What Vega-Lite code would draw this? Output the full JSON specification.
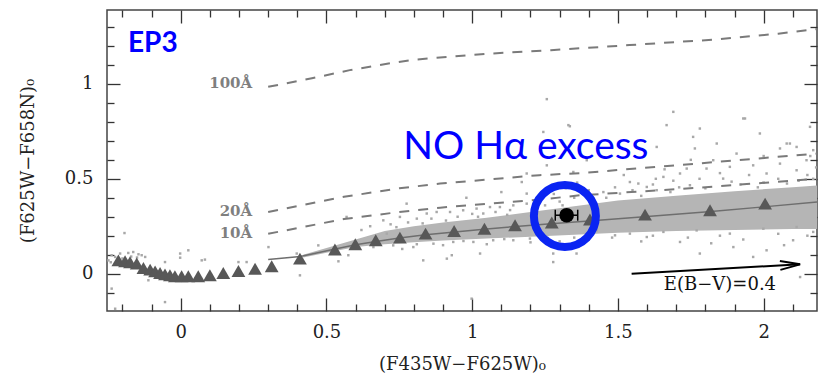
{
  "$schema": "https://vega.github.io/schema/vega-lite/v6.json",
  "width": 710,
  "height": 301,
  "autosize": {"type": "none"},
  "padding": {"left": 107, "top": 10, "right": 13, "bottom": 66},
  "background": "white",
  "config": {
    "view": {"stroke": "#444444", "strokeWidth": 1.5},
    "axis": {"labelFont": "DejaVu Serif", "titleFont": "DejaVu Serif", "labelFontSize": 18, "titleFontSize": 18, "labelColor": "#222222", "titleColor": "#222222", "titleFontWeight": "normal", "grid": false}
  },
  "datasets": {
    "band": [
      {"x": 0.42, "lo": 0.085, "hi": 0.10},
      {"x": 0.5, "lo": 0.11, "hi": 0.135},
      {"x": 0.6, "lo": 0.14, "hi": 0.18},
      {"x": 0.7, "lo": 0.155, "hi": 0.225},
      {"x": 0.8, "lo": 0.165, "hi": 0.25},
      {"x": 0.9, "lo": 0.175, "hi": 0.27},
      {"x": 1.05, "lo": 0.185, "hi": 0.295},
      {"x": 1.2, "lo": 0.195, "hi": 0.325},
      {"x": 1.35, "lo": 0.205, "hi": 0.355},
      {"x": 1.5, "lo": 0.215, "hi": 0.385},
      {"x": 1.7, "lo": 0.225, "hi": 0.41},
      {"x": 1.9, "lo": 0.23, "hi": 0.435},
      {"x": 2.1, "lo": 0.235, "hi": 0.455},
      {"x": 2.183, "lo": 0.235, "hi": 0.465}
    ],
    "stars": [
      {"x": -0.248, "y": 0.070}, {"x": -0.237, "y": 0.097}, {"x": -0.225, "y": 0.088}, {"x": -0.208, "y": 0.106},
      {"x": -0.180, "y": 0.109}, {"x": -0.163, "y": 0.114}, {"x": -0.145, "y": 0.102}, {"x": -0.134, "y": 0.097},
      {"x": -0.122, "y": 0.088}, {"x": -0.193, "y": 0.214}, {"x": -0.111, "y": -0.035}, {"x": -0.237, "y": -0.079},
      {"x": -0.054, "y": -0.150}, {"x": -0.225, "y": -0.185}, {"x": -0.002, "y": 0.106}, {"x": 0.026, "y": 0.123},
      {"x": -0.054, "y": 0.061}, {"x": -0.002, "y": 0.084}, {"x": 0.072, "y": 0.070}, {"x": 0.083, "y": 0.074},
      {"x": 0.198, "y": 0.061}, {"x": 0.226, "y": 0.061}, {"x": 0.301, "y": 0.140}, {"x": 0.398, "y": 0.106},
      {"x": 0.409, "y": -0.009}, {"x": 0.472, "y": 0.149}, {"x": 0.541, "y": 0.065}, {"x": 0.569, "y": 0.299},
      {"x": -0.2, "y": 0.08}, {"x": -0.17, "y": 0.09}, {"x": -0.15, "y": 0.085}, {"x": -0.24, "y": 0.06}, {"x": -0.215, "y": 0.055},
      {"x": 0.575, "y": 0.097}, {"x": 0.707, "y": 0.211}, {"x": 0.832, "y": 0.070}, {"x": 0.913, "y": 0.079},
      {"x": 0.930, "y": 0.097}, {"x": 1.038, "y": 0.317}, {"x": 1.187, "y": 0.422}, {"x": 1.278, "y": 0.061},
      {"x": 1.027, "y": 0.106}, {"x": 0.775, "y": 0.369}, {"x": 0.998, "y": -0.132}, {"x": 1.187, "y": 0.528},
      {"x": 1.256, "y": 0.571}, {"x": 1.347, "y": 0.536}, {"x": 1.393, "y": 0.598}, {"x": 1.17, "y": 0.483},
      {"x": 1.278, "y": 0.106}, {"x": 1.358, "y": 0.106},
      {"x": 0.695, "y": 0.281}, {"x": 0.752, "y": 0.299}, {"x": 0.810, "y": 0.290}, {"x": 0.844, "y": 0.317},
      {"x": 0.878, "y": 0.325}, {"x": 0.924, "y": 0.325}, {"x": 0.969, "y": 0.334}, {"x": 1.015, "y": 0.343},
      {"x": 1.061, "y": 0.351}, {"x": 1.095, "y": 0.351}, {"x": 1.141, "y": 0.360}, {"x": 1.187, "y": 0.369},
      {"x": 1.221, "y": 0.387},
      {"x": 0.72, "y": 0.26}, {"x": 0.78, "y": 0.27}, {"x": 0.86, "y": 0.29}, {"x": 0.95, "y": 0.30},
      {"x": 1.0, "y": 0.315}, {"x": 1.08, "y": 0.325}, {"x": 1.13, "y": 0.335}, {"x": 1.25, "y": 0.36},
      {"x": 1.3, "y": 0.38}, {"x": 1.35, "y": 0.40}, {"x": 1.28, "y": 0.42}, {"x": 1.32, "y": 0.45},
      {"x": 1.40, "y": 0.44}, {"x": 1.36, "y": 0.48}, {"x": 1.1, "y": 0.43}, {"x": 0.98, "y": 0.40},
      {"x": 0.62, "y": 0.23}, {"x": 0.65, "y": 0.25},
      {"x": 0.74, "y": 0.245}, {"x": 0.83, "y": 0.265}, {"x": 0.91, "y": 0.28}, {"x": 1.02, "y": 0.3},
      {"x": 1.12, "y": 0.31}, {"x": 1.22, "y": 0.34}, {"x": 1.31, "y": 0.36}, {"x": 1.42, "y": 0.37},
      {"x": 0.81, "y": 0.155}, {"x": 0.97, "y": 0.172}, {"x": 1.11, "y": 0.182}, {"x": 1.26, "y": 0.188},
      {"x": 0.661, "y": 0.140}, {"x": 0.729, "y": 0.149}, {"x": 0.798, "y": 0.140}, {"x": 0.867, "y": 0.158},
      {"x": 0.935, "y": 0.167}, {"x": 1.004, "y": 0.167}, {"x": 1.072, "y": 0.176}, {"x": 1.141, "y": 0.176},
      {"x": 1.198, "y": 0.185}, {"x": 0.76, "y": 0.13}, {"x": 0.9, "y": 0.15}, {"x": 1.05, "y": 0.155},
      {"x": 1.2, "y": 0.165}, {"x": 1.3, "y": 0.17}, {"x": 1.35, "y": 0.19}, {"x": 1.4, "y": 0.18},
      {"x": 1.667, "y": 0.783}, {"x": 1.764, "y": 0.660}, {"x": 1.936, "y": 0.818}, {"x": 1.987, "y": 0.739},
      {"x": 1.839, "y": 0.686}, {"x": 2.09, "y": 0.686}, {"x": 2.113, "y": 0.668}, {"x": 2.125, "y": -0.018},
      {"x": 2.101, "y": 0.176}, {"x": 1.896, "y": 0.140}, {"x": 1.713, "y": 0.167}, {"x": 1.599, "y": 0.193},
      {"x": 1.49, "y": 0.202}, {"x": 2.01, "y": 0.123}, {"x": 1.964, "y": 0.088}, {"x": 1.781, "y": 0.106},
      {"x": 1.541, "y": 0.483}, {"x": 1.656, "y": 0.510}, {"x": 1.713, "y": 0.528}, {"x": 1.804, "y": 0.554},
      {"x": 1.884, "y": 0.563}, {"x": 1.964, "y": 0.571}, {"x": 2.056, "y": 0.580}, {"x": 2.147, "y": 0.598},
      {"x": 1.633, "y": 0.440}, {"x": 1.747, "y": 0.466}, {"x": 1.861, "y": 0.501}, {"x": 2.01, "y": 0.528},
      {"x": 2.113, "y": 0.545}, {"x": 1.507, "y": 0.422}, {"x": 1.907, "y": 0.633}, {"x": 2.056, "y": 0.660},
      {"x": 2.17, "y": 0.651}, {"x": 1.827, "y": 0.598}, {"x": 1.736, "y": 0.554}, {"x": 1.599, "y": 0.457},
      {"x": 1.45, "y": 0.43}, {"x": 1.55, "y": 0.44}, {"x": 1.62, "y": 0.47}, {"x": 1.69, "y": 0.49},
      {"x": 1.78, "y": 0.5}, {"x": 1.95, "y": 0.52}, {"x": 2.05, "y": 0.5}, {"x": 2.15, "y": 0.52},
      {"x": 2.18, "y": 0.56}, {"x": 1.58, "y": 0.41}, {"x": 1.68, "y": 0.43}, {"x": 1.8, "y": 0.45},
      {"x": 1.92, "y": 0.47}, {"x": 2.0, "y": 0.48}, {"x": 2.12, "y": 0.49}, {"x": 1.46, "y": 0.40},
      {"x": 1.52, "y": 0.52}, {"x": 1.75, "y": 0.6}, {"x": 2.0, "y": 0.62}, {"x": 2.16, "y": 0.62},
      {"x": 1.85, "y": 0.53}, {"x": 1.66, "y": 0.55},
      {"x": 1.49, "y": 0.455}, {"x": 1.57, "y": 0.475}, {"x": 1.71, "y": 0.455}, {"x": 1.89, "y": 0.485},
      {"x": 1.98, "y": 0.455}, {"x": 2.08, "y": 0.475}, {"x": 2.17, "y": 0.5}, {"x": 1.63, "y": 0.5},
      {"x": 1.427, "y": 0.228}, {"x": 1.541, "y": 0.211}, {"x": 1.656, "y": 0.220}, {"x": 1.770, "y": 0.228},
      {"x": 1.884, "y": 0.211}, {"x": 1.999, "y": 0.237}, {"x": 2.113, "y": 0.246}, {"x": 2.17, "y": 0.220},
      {"x": 1.48, "y": 0.19}, {"x": 1.62, "y": 0.20}, {"x": 1.74, "y": 0.19}, {"x": 1.85, "y": 0.2},
      {"x": 1.93, "y": 0.18}, {"x": 2.05, "y": 0.21}, {"x": 2.15, "y": 0.2}, {"x": 1.58, "y": 0.17},
      {"x": 1.82, "y": 0.16}, {"x": 2.07, "y": 0.15},
      {"x": 1.256, "y": 0.920}, {"x": 1.335, "y": 0.777}, {"x": 1.69, "y": 0.853}, {"x": 1.781, "y": 0.765},
      {"x": 1.93, "y": 0.818}, {"x": 2.079, "y": 0.686}, {"x": 2.159, "y": 0.774}, {"x": 1.633, "y": 0.668},
      {"x": 1.758, "y": 0.721}, {"x": 1.33, "y": 0.783}, {"x": 1.244, "y": 0.747}
    ],
    "ew": [
      {"ew": "100Å", "x": 0.30, "y": 0.985}, {"ew": "100Å", "x": 0.45, "y": 1.03}, {"ew": "100Å", "x": 0.58, "y": 1.073},
      {"ew": "100Å", "x": 0.72, "y": 1.11}, {"ew": "100Å", "x": 0.80, "y": 1.128}, {"ew": "100Å", "x": 0.92, "y": 1.143},
      {"ew": "100Å", "x": 1.06, "y": 1.16}, {"ew": "100Å", "x": 1.27, "y": 1.178}, {"ew": "100Å", "x": 1.54, "y": 1.205},
      {"ew": "100Å", "x": 1.84, "y": 1.235}, {"ew": "100Å", "x": 2.05, "y": 1.265}, {"ew": "100Å", "x": 2.183, "y": 1.29},
      {"ew": "20Å", "x": 0.30, "y": 0.325}, {"ew": "20Å", "x": 0.56, "y": 0.405}, {"ew": "20Å", "x": 0.75, "y": 0.45},
      {"ew": "20Å", "x": 0.89, "y": 0.475}, {"ew": "20Å", "x": 1.23, "y": 0.519}, {"ew": "20Å", "x": 1.37, "y": 0.53},
      {"ew": "20Å", "x": 1.77, "y": 0.58}, {"ew": "20Å", "x": 2.183, "y": 0.633},
      {"ew": "10Å", "x": 0.30, "y": 0.21}, {"ew": "10Å", "x": 0.56, "y": 0.288}, {"ew": "10Å", "x": 0.75, "y": 0.325},
      {"ew": "10Å", "x": 0.89, "y": 0.348}, {"ew": "10Å", "x": 1.23, "y": 0.39}, {"ew": "10Å", "x": 1.37, "y": 0.413},
      {"ew": "10Å", "x": 1.77, "y": 0.452}, {"ew": "10Å", "x": 2.183, "y": 0.50}
    ],
    "ewlabels": [
      {"x": 0.245, "y": 1.004, "label": "100Å"},
      {"x": 0.245, "y": 0.329, "label": "20Å"},
      {"x": 0.245, "y": 0.213, "label": "10Å"}
    ],
    "locus": [
      {"x": 0.30, "y": 0.075}, {"x": 0.41, "y": 0.09}, {"x": 0.53, "y": 0.13}, {"x": 0.6, "y": 0.152},
      {"x": 0.67, "y": 0.17}, {"x": 0.75, "y": 0.188}, {"x": 0.84, "y": 0.205}, {"x": 0.94, "y": 0.22},
      {"x": 1.04, "y": 0.234}, {"x": 1.15, "y": 0.249}, {"x": 1.27, "y": 0.263}, {"x": 1.40, "y": 0.278},
      {"x": 1.59, "y": 0.300}, {"x": 1.82, "y": 0.327}, {"x": 2.0, "y": 0.352}, {"x": 2.183, "y": 0.378}
    ],
    "triangles": [
      {"x": -0.214, "y": 0.070}, {"x": -0.191, "y": 0.065}, {"x": -0.174, "y": 0.060}, {"x": -0.151, "y": 0.053},
      {"x": -0.128, "y": 0.030}, {"x": -0.105, "y": 0.021}, {"x": -0.088, "y": 0.012}, {"x": -0.071, "y": 0.003},
      {"x": -0.054, "y": -0.004}, {"x": -0.037, "y": -0.009}, {"x": -0.020, "y": -0.014}, {"x": 0.003, "y": -0.014},
      {"x": 0.026, "y": -0.014}, {"x": 0.060, "y": -0.014}, {"x": 0.100, "y": -0.009}, {"x": 0.146, "y": 0.003},
      {"x": 0.198, "y": 0.014}, {"x": 0.255, "y": 0.026}, {"x": 0.312, "y": 0.039}, {"x": 0.409, "y": 0.079},
      {"x": 0.529, "y": 0.127}, {"x": 0.599, "y": 0.155}, {"x": 0.669, "y": 0.176}, {"x": 0.752, "y": 0.190},
      {"x": 0.840, "y": 0.211}, {"x": 0.938, "y": 0.225}, {"x": 1.042, "y": 0.237}, {"x": 1.147, "y": 0.255},
      {"x": 1.273, "y": 0.270}, {"x": 1.404, "y": 0.285}, {"x": 1.593, "y": 0.311}, {"x": 1.816, "y": 0.334},
      {"x": 2.005, "y": 0.369}
    ],
    "arrow": [{"x": 1.547, "y": 0.0, "x2": 2.125, "y2": 0.049}],
    "ring": [{"x": 1.318, "y": 0.304}],
    "target": [{"x": 1.324, "y": 0.308, "xlo": 1.285, "xhi": 1.362}],
    "ep": [{"x": -0.181, "y": 1.168, "label": "EP3"}],
    "headline": [{"x": 1.184, "y": 0.607, "label": "NO Hα excess"}],
    "ebv": [{"x": 1.85, "y": -0.062, "label": "E(B−V)=0.4"}]
  },
  "resolve": {"axis": {"x": "independent", "y": "independent"}},
  "layer": [
    {
      "data": {"name": "band"},
      "mark": {"type": "area", "color": "#b5b5b5", "clip": true},
      "encoding": {
        "x": {"field": "x", "type": "quantitative", "scale": {"domain": [-0.253, 2.183], "nice": false, "zero": false},
          "axis": {"orient": "bottom", "values": [0, 0.5, 1, 1.5, 2], "format": "~g", "ticks": false, "domain": false, "labelPadding": 12, "title": "(F435W−F625W)₀", "titlePadding": 14}},
        "y": {"field": "lo", "type": "quantitative", "scale": {"domain": [-0.197, 1.39], "nice": false, "zero": false},
          "axis": {"orient": "left", "values": [0, 0.5, 1], "format": "~g", "ticks": false, "domain": false, "labelPadding": 14, "title": "(F625W−F658N)₀", "titlePadding": 27}},
        "y2": {"field": "hi"}
      }
    },
    {
      "data": {"name": "stars"},
      "mark": {"type": "point", "shape": "square", "filled": true, "size": 6, "color": "#a8a8a8", "opacity": 1, "clip": true},
      "encoding": {
        "x": {"field": "x", "type": "quantitative", "scale": {"domain": [-0.253, 2.183], "nice": false, "zero": false},
          "axis": {"orient": "bottom", "values": [0, 0.5, 1, 1.5, 2], "labels": false, "domain": false, "tickSize": -13, "tickColor": "#333333", "tickWidth": 1.3, "title": null}},
        "y": {"field": "y", "type": "quantitative", "scale": {"domain": [-0.197, 1.39], "nice": false, "zero": false},
          "axis": {"orient": "left", "values": [0, 0.5, 1], "labels": false, "domain": false, "tickSize": -13, "tickColor": "#333333", "tickWidth": 1.3, "title": null}}
      }
    },
    {
      "data": {"name": "ew"},
      "mark": {"type": "line", "color": "#7a7a7a", "strokeWidth": 2, "strokeDash": [10, 9], "clip": true},
      "encoding": {
        "detail": {"field": "ew"},
        "x": {"field": "x", "type": "quantitative", "scale": {"domain": [-0.253, 2.183], "nice": false, "zero": false},
          "axis": {"orient": "bottom", "values": [-0.2, -0.1, 0.1, 0.2, 0.3, 0.4, 0.6, 0.7, 0.8, 0.9, 1.1, 1.2, 1.3, 1.4, 1.6, 1.7, 1.8, 1.9, 2.1], "labels": false, "domain": false, "tickSize": -7, "tickColor": "#333333", "tickWidth": 1.3, "title": null}},
        "y": {"field": "y", "type": "quantitative", "scale": {"domain": [-0.197, 1.39], "nice": false, "zero": false},
          "axis": {"orient": "left", "values": [-0.1, 0.1, 0.2, 0.3, 0.4, 0.6, 0.7, 0.8, 0.9, 1.1, 1.2, 1.3], "labels": false, "domain": false, "tickSize": -7, "tickColor": "#333333", "tickWidth": 1.3, "title": null}}
      }
    },
    {
      "data": {"name": "locus"},
      "mark": {"type": "line", "color": "#6e6e6e", "strokeWidth": 1.5, "clip": true},
      "encoding": {
        "x": {"field": "x", "type": "quantitative", "scale": {"domain": [-0.253, 2.183], "nice": false, "zero": false},
          "axis": {"orient": "top", "values": [0, 0.5, 1, 1.5, 2], "labels": false, "domain": false, "tickSize": -13, "tickColor": "#333333", "tickWidth": 1.3, "title": null}},
        "y": {"field": "y", "type": "quantitative", "scale": {"domain": [-0.197, 1.39], "nice": false, "zero": false},
          "axis": {"orient": "right", "values": [0, 0.5, 1], "labels": false, "domain": false, "tickSize": -13, "tickColor": "#333333", "tickWidth": 1.3, "title": null}}
      }
    },
    {
      "data": {"name": "triangles"},
      "mark": {"type": "point", "shape": "triangle-up", "filled": true, "size": 190, "color": "#585858", "opacity": 1, "clip": true},
      "encoding": {
        "x": {"field": "x", "type": "quantitative", "scale": {"domain": [-0.253, 2.183], "nice": false, "zero": false},
          "axis": {"orient": "top", "values": [-0.2, -0.1, 0.1, 0.2, 0.3, 0.4, 0.6, 0.7, 0.8, 0.9, 1.1, 1.2, 1.3, 1.4, 1.6, 1.7, 1.8, 1.9, 2.1], "labels": false, "domain": false, "tickSize": -7, "tickColor": "#333333", "tickWidth": 1.3, "title": null}},
        "y": {"field": "y", "type": "quantitative", "scale": {"domain": [-0.197, 1.39], "nice": false, "zero": false},
          "axis": {"orient": "right", "values": [-0.1, 0.1, 0.2, 0.3, 0.4, 0.6, 0.7, 0.8, 0.9, 1.1, 1.2, 1.3], "labels": false, "domain": false, "tickSize": -7, "tickColor": "#333333", "tickWidth": 1.3, "title": null}}
      }
    },
    {
      "data": {"name": "ewlabels"},
      "mark": {"type": "text", "font": "DejaVu Serif", "fontWeight": "bold", "fontSize": 15, "color": "#7f7f7f", "align": "right", "baseline": "middle"},
      "encoding": {
        "x": {"field": "x", "type": "quantitative", "axis": null},
        "y": {"field": "y", "type": "quantitative", "axis": null},
        "text": {"field": "label"}
      }
    },
    {
      "data": {"name": "arrow"},
      "mark": {"type": "rule", "color": "#000000", "strokeWidth": 2},
      "encoding": {
        "x": {"field": "x", "type": "quantitative", "axis": null},
        "y": {"field": "y", "type": "quantitative", "axis": null},
        "x2": {"field": "x2"},
        "y2": {"field": "y2"}
      }
    },
    {
      "data": {"name": "arrow"},
      "mark": {"type": "point", "shape": "M-1,-0.22L0,0L-1,0.22", "filled": false, "size": 1600, "angle": -3.2, "color": "#000000", "strokeWidth": 2, "opacity": 1},
      "encoding": {
        "x": {"field": "x2", "type": "quantitative", "axis": null},
        "y": {"field": "y2", "type": "quantitative", "axis": null}
      }
    },
    {
      "data": {"name": "ebv"},
      "mark": {"type": "text", "font": "DejaVu Serif", "fontSize": 18, "color": "#111111", "align": "center", "baseline": "middle"},
      "encoding": {
        "x": {"field": "x", "type": "quantitative", "axis": null},
        "y": {"field": "y", "type": "quantitative", "axis": null},
        "text": {"field": "label"}
      }
    },
    {
      "data": {"name": "target"},
      "mark": {"type": "rule", "color": "#000000", "strokeWidth": 1.5},
      "encoding": {
        "x": {"field": "xlo", "type": "quantitative", "axis": null},
        "x2": {"field": "xhi"},
        "y": {"field": "y", "type": "quantitative", "axis": null}
      }
    },
    {
      "data": {"name": "target"},
      "mark": {"type": "tick", "orient": "vertical", "color": "#000000", "size": 11, "thickness": 1.5, "opacity": 1},
      "encoding": {
        "x": {"field": "xlo", "type": "quantitative", "axis": null},
        "y": {"field": "y", "type": "quantitative", "axis": null}
      }
    },
    {
      "data": {"name": "target"},
      "mark": {"type": "tick", "orient": "vertical", "color": "#000000", "size": 11, "thickness": 1.5, "opacity": 1},
      "encoding": {
        "x": {"field": "xhi", "type": "quantitative", "axis": null},
        "y": {"field": "y", "type": "quantitative", "axis": null}
      }
    },
    {
      "data": {"name": "target"},
      "mark": {"type": "point", "shape": "circle", "filled": true, "size": 215, "color": "#000000", "opacity": 1},
      "encoding": {
        "x": {"field": "x", "type": "quantitative", "axis": null},
        "y": {"field": "y", "type": "quantitative", "axis": null}
      }
    },
    {
      "data": {"name": "ring"},
      "mark": {"type": "point", "shape": "circle", "filled": false, "size": 3844, "color": "#0a24f2", "strokeWidth": 8, "opacity": 1},
      "encoding": {
        "x": {"field": "x", "type": "quantitative", "axis": null},
        "y": {"field": "y", "type": "quantitative", "axis": null}
      }
    },
    {
      "data": {"name": "headline"},
      "mark": {"type": "text", "font": "Lato", "fontSize": 39, "color": "#0000ff", "align": "center", "baseline": "alphabetic"},
      "encoding": {
        "x": {"field": "x", "type": "quantitative", "axis": null},
        "y": {"field": "y", "type": "quantitative", "axis": null},
        "text": {"field": "label"}
      }
    },
    {
      "data": {"name": "ep"},
      "mark": {"type": "text", "font": "Lato", "fontWeight": "bold", "fontSize": 28, "color": "#0000ff", "align": "left", "baseline": "alphabetic"},
      "encoding": {
        "x": {"field": "x", "type": "quantitative", "axis": null},
        "y": {"field": "y", "type": "quantitative", "axis": null},
        "text": {"field": "label"}
      }
    }
  ]
}
